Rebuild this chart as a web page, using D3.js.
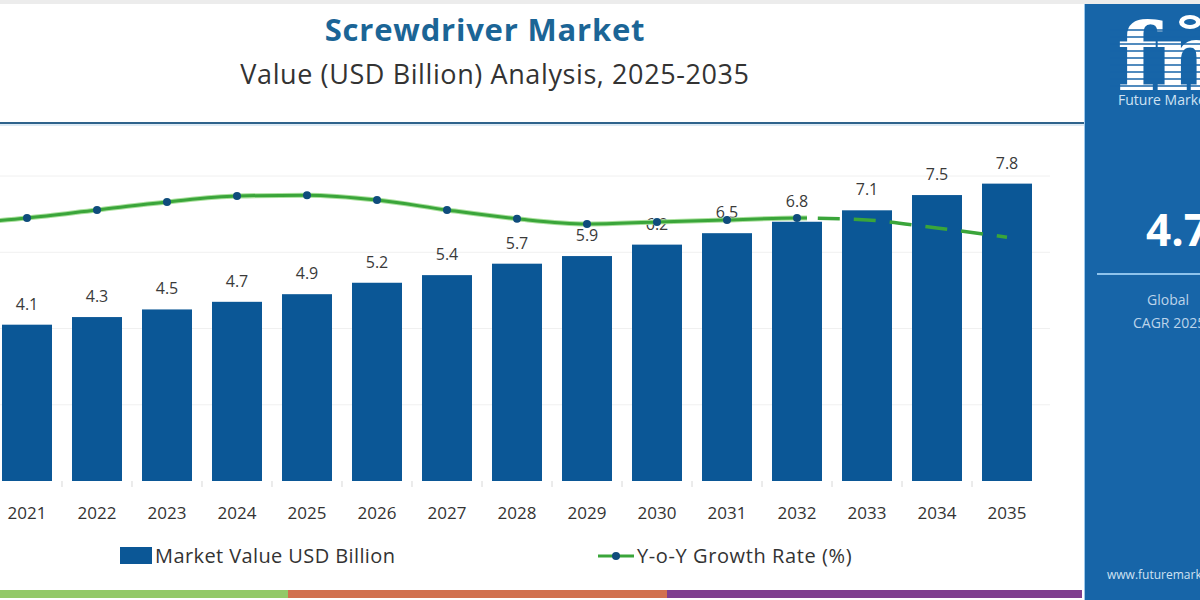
<!DOCTYPE html>
<html>
<head>
<meta charset="utf-8">
<script src="https://cdn.jsdelivr.net/npm/d3@7"></script>
<style>
  html, body { margin: 0; padding: 0; background: #fff; }
  svg { display: block; font-family: "Open Sans", sans-serif; }
</style>
</head>
<body>
<svg id="chart" width="1200" height="600"></svg>
<script>
// data (2020 sits just outside the left edge, only its line segment shows)
const years = ["2020", "2021", "2022", "2023", "2024", "2025", "2026", "2027",
  "2028", "2029", "2030", "2031", "2032", "2033", "2034", "2035"];
const marketValue = [3.9, 4.1, 4.3, 4.5, 4.7, 4.9, 5.2, 5.4, 5.7, 5.9, 6.2, 6.5, 6.8, 7.1, 7.5, 7.8];
const growthRate = [4.45, 4.6, 4.8, 5.0, 5.15, 5.17, 5.05, 4.8, 4.58, 4.45, 4.5, 4.55, 4.6, 4.55, 4.35, 4.12];
const lastSolidYear = "2032";
const gridValues = [2, 4, 6, 8];

const barColor = "#0b5796";
const lineColor = "#3aa53a";
const dotColor = "#0f4c7c";
const panelColor = "#1765a8";

const svg = d3.select("#chart");

// thin grey strip on top
svg.append("rect").attr("x", 0).attr("y", 0).attr("width", 1200).attr("height", 4).attr("fill", "#ececec");

// titles
svg.append("text")
  .attr("x", 485).attr("y", 41)
  .attr("text-anchor", "middle")
  .attr("font-size", 31).attr("font-weight", 700)
  .attr("letter-spacing", 0.8)
  .attr("fill", "#1b6596")
  .text("Screwdriver Market");

svg.append("text")
  .attr("x", 495).attr("y", 84)
  .attr("text-anchor", "middle")
  .attr("font-size", 27)
  .attr("letter-spacing", 0.6)
  .attr("fill", "#333")
  .text("Value (USD Billion) Analysis, 2025-2035");

svg.append("line")
  .attr("x1", 0).attr("x2", 1084).attr("y1", 123).attr("y2", 123)
  .attr("stroke", "#2f638c").attr("stroke-width", 2);
svg.append("line")
  .attr("x1", 0).attr("x2", 1084).attr("y1", 125).attr("y2", 125)
  .attr("stroke", "#bcd6ea").attr("stroke-width", 1);

// scales
const x = d3.scaleBand().domain(years).range([-88, 1052]).padding(0.2857);
const y = d3.scaleLinear().domain([0, 8]).range([481, 176]);
const yGrowth = d3.scaleLinear().domain([0, 8]).range([402, 82]);
const cx = (d) => x(d) + x.bandwidth() / 2;
const shownYears = years.filter((d) => cx(d) > 0);

const plot = svg.append("g");

// faint gridlines
plot.append("g")
  .selectAll("line")
  .data(gridValues)
  .join("line")
  .attr("x1", 0).attr("x2", 1050)
  .attr("y1", (d) => y(d)).attr("y2", (d) => y(d))
  .attr("stroke", "#f0f0f0").attr("stroke-width", 1);

// bars
plot.append("g")
  .selectAll("rect")
  .data(years)
  .join("rect")
  .attr("x", (d) => x(d))
  .attr("width", x.bandwidth())
  .attr("y", (d, i) => y(marketValue[i]))
  .attr("height", (d, i) => y(0) - y(marketValue[i]))
  .attr("fill", barColor);

// value labels
plot.append("g")
  .selectAll("text")
  .data(shownYears)
  .join("text")
  .attr("x", (d) => cx(d))
  .attr("y", (d) => y(marketValue[years.indexOf(d)]) - 15)
  .attr("text-anchor", "middle")
  .attr("font-size", 16)
  .attr("fill", "#3a3a3a")
  .text((d) => marketValue[years.indexOf(d)].toFixed(1));

// small ticks between bars
const step = x.step();
plot.append("g")
  .selectAll("line")
  .data(shownYears)
  .join("line")
  .attr("x1", (d) => x(d) - (step - x.bandwidth()) / 2)
  .attr("x2", (d) => x(d) - (step - x.bandwidth()) / 2)
  .attr("y1", y(0)).attr("y2", y(0) + 6)
  .attr("stroke", "#d8d8d8");

// x axis
const xAxis = plot.append("g")
  .attr("transform", `translate(0,${y(0)})`)
  .call(d3.axisBottom(x).tickValues(shownYears).tickSize(0).tickPadding(26));
xAxis.select(".domain").remove();
xAxis.selectAll("text")
  .attr("font-family", "Open Sans, sans-serif")
  .attr("font-size", 17)
  .attr("fill", "#333");

// growth line: solid up to lastSolidYear, dashed afterwards
const splitIndex = years.indexOf(lastSolidYear);
const splitX = (cx(years[splitIndex]) + cx(years[splitIndex + 1])) / 2 - 25;

const defs = svg.append("defs");
defs.append("clipPath").attr("id", "solid-clip")
  .append("rect").attr("x", -200).attr("y", 0).attr("width", splitX + 200).attr("height", 600);
defs.append("clipPath").attr("id", "dash-clip")
  .append("rect").attr("x", splitX).attr("y", 0).attr("width", 1200 - splitX).attr("height", 600);
defs.append("clipPath").attr("id", "logo-clip")
  .append("rect").attr("x", 1084).attr("y", 4).attr("width", 116).attr("height", 88);

const line = d3.line()
  .x((d, i) => cx(years[i]))
  .y((d) => yGrowth(d))
  .curve(d3.curveMonotoneX);

const lineG = plot.append("g");
lineG.append("path")
  .attr("d", line(growthRate))
  .attr("clip-path", "url(#solid-clip)")
  .attr("fill", "none")
  .attr("stroke", "#a9e09c").attr("stroke-width", 5);
lineG.append("path")
  .attr("d", line(growthRate))
  .attr("clip-path", "url(#solid-clip)")
  .attr("fill", "none")
  .attr("stroke", lineColor).attr("stroke-width", 3);
lineG.append("path")
  .attr("d", line(growthRate))
  .attr("clip-path", "url(#dash-clip)")
  .attr("fill", "none")
  .attr("stroke", lineColor).attr("stroke-width", 3.5)
  .attr("stroke-dasharray", "22,14");

lineG.selectAll("circle")
  .data(growthRate.slice(0, splitIndex + 1))
  .join("circle")
  .attr("cx", (d, i) => cx(years[i]))
  .attr("cy", (d) => yGrowth(d))
  .attr("r", 4)
  .attr("fill", dotColor);

// legend
const legend = svg.append("g");
legend.append("rect")
  .attr("x", 120).attr("y", 547).attr("width", 32).attr("height", 17)
  .attr("fill", barColor);
legend.append("text")
  .attr("x", 155).attr("y", 563)
  .attr("font-size", 20).attr("letter-spacing", 0.4)
  .attr("fill", "#333")
  .text("Market Value USD Billion");
legend.append("line")
  .attr("x1", 598).attr("x2", 634).attr("y1", 556).attr("y2", 556)
  .attr("stroke", lineColor).attr("stroke-width", 3);
legend.append("circle")
  .attr("cx", 616).attr("cy", 556).attr("r", 4)
  .attr("fill", dotColor);
legend.append("text")
  .attr("x", 637).attr("y", 563)
  .attr("font-size", 20).attr("letter-spacing", 0.6)
  .attr("fill", "#333")
  .text("Y-o-Y Growth Rate (%)");

// bottom colour strip
const strip = [
  { x0: 0, x1: 288, color: "#93c968" },
  { x0: 288, x1: 667, color: "#d1714f" },
  { x0: 667, x1: 1082, color: "#7f3f8f" },
];
svg.append("g")
  .selectAll("rect")
  .data(strip)
  .join("rect")
  .attr("x", (d) => d.x0).attr("width", (d) => d.x1 - d.x0)
  .attr("y", 590).attr("height", 8)
  .attr("fill", (d) => d.color);

// right side panel
const panel = svg.append("g");
panel.append("rect")
  .attr("x", 1084).attr("y", 4).attr("width", 116).attr("height", 596)
  .attr("fill", panelColor);
panel.append("line")
  .attr("x1", 1084.5).attr("x2", 1084.5).attr("y1", 4).attr("y2", 600)
  .attr("stroke", "#9cc8ec").attr("stroke-width", 1);

const logo = panel.append("g").attr("clip-path", "url(#logo-clip)");
logo.append("text")
  .attr("x", 1117).attr("y", 90)
  .attr("font-family", "DejaVu Serif, serif")
  .attr("font-size", 94).attr("font-weight", 700)
  .attr("letter-spacing", -3)
  .attr("fill", "#fff")
  .text("fmi");
// stripes through the logo
logo.append("g")
  .selectAll("line")
  .data(d3.range(30, 92, 7))
  .join("line")
  .attr("x1", 1110).attr("x2", 1200)
  .attr("y1", (d) => d).attr("y2", (d) => d)
  .attr("stroke", panelColor).attr("stroke-width", 1.5);
panel.append("ellipse")
  .attr("cx", 1190).attr("cy", 22).attr("rx", 11).attr("ry", 7)
  .attr("fill", "#fff");
panel.append("ellipse")
  .attr("cx", 1190).attr("cy", 22).attr("rx", 6).attr("ry", 3)
  .attr("fill", panelColor);
panel.append("text")
  .attr("x", 1118).attr("y", 105)
  .attr("font-size", 14).attr("fill", "#cfe2f3")
  .text("Future Market Insights");

panel.append("text")
  .attr("x", 1146).attr("y", 246)
  .attr("font-size", 44).attr("font-weight", 700)
  .attr("fill", "#fff")
  .text("4.7%");
panel.append("line")
  .attr("x1", 1097).attr("x2", 1200).attr("y1", 274).attr("y2", 274)
  .attr("stroke", "#8ec3ec").attr("stroke-width", 2);
panel.append("text")
  .attr("x", 1147).attr("y", 305)
  .attr("font-size", 14).attr("fill", "#bcd4ea")
  .text("Global");
panel.append("text")
  .attr("x", 1133).attr("y", 328)
  .attr("font-size", 14).attr("fill", "#bcd4ea")
  .text("CAGR 2025-2035");
panel.append("text")
  .attr("x", 1107).attr("y", 579)
  .attr("font-size", 12).attr("fill", "#cfe2f3")
  .text("www.futuremarketinsights.com");
</script>
</body>
</html>
